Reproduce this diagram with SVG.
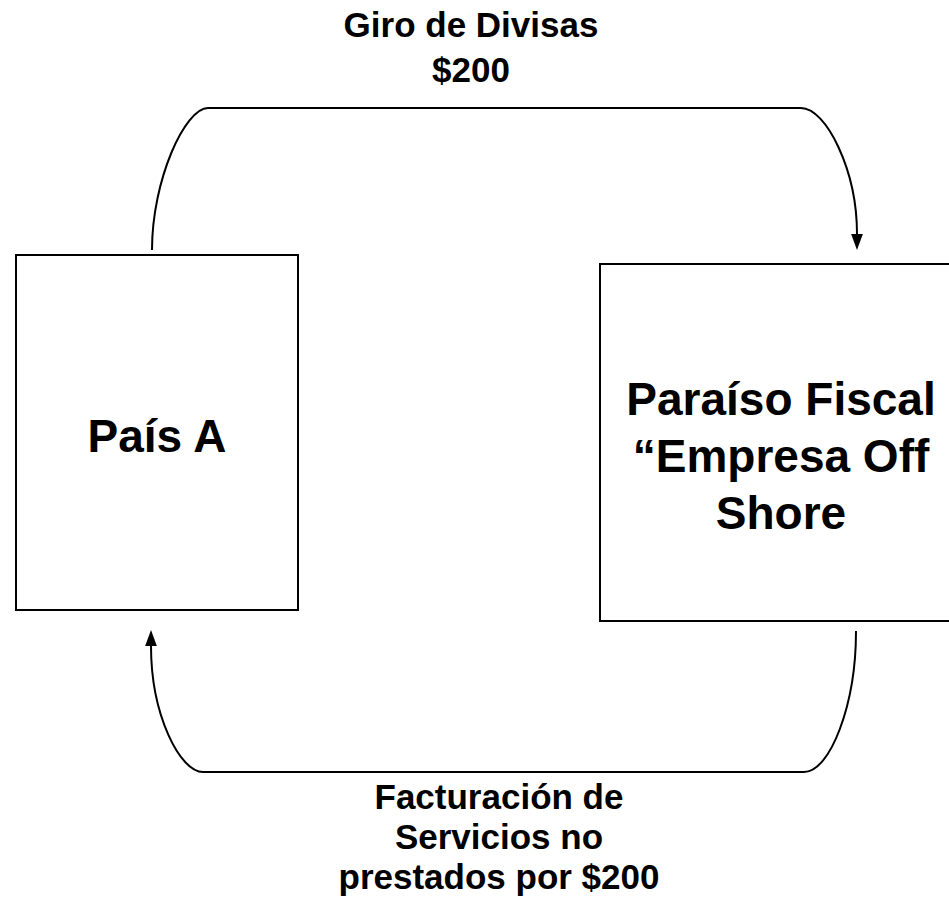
<svg xmlns="http://www.w3.org/2000/svg" width="949" height="904" viewBox="0 0 949 904">
  <style>
    .box { fill: #ffffff; stroke: #000000; stroke-width: 2; }
    .conn { fill: none; stroke: #000000; stroke-width: 2; }
    text { font-family: "Liberation Sans", Arial, sans-serif; font-weight: bold; fill: #000000; text-anchor: middle; }
    .lbl { font-size: 35px; }
    .big { font-size: 46px; }
  </style>
  <defs>
    <marker id="arrow" markerUnits="userSpaceOnUse" markerWidth="16" markerHeight="12" viewBox="0 0 15 11" refX="0" refY="5.5" orient="auto">
      <path d="M0,0 L15,5.5 L0,11 z" fill="#000000"/>
    </marker>
  </defs>
  <rect width="949" height="904" fill="#ffffff"/>

  <g id="connectors">
    <path class="conn" d="M152,250 C152,180 185,108 208,108 L801,108 C826,108 857,170 857,234" marker-end="url(#arrow)"/>
    <path class="conn" d="M856,631 C856,705 830,772 804,772 L203,772 C180,772 151,715 151,646" marker-end="url(#arrow)"/>
  </g>

  <g id="pais-a">
    <rect class="box" x="16" y="255" width="282" height="355"/>
    <text class="big" x="157" y="452">País A</text>
  </g>

  <g id="paraiso-fiscal">
    <rect class="box" x="600" y="264" width="360" height="357"/>
    <text class="big" x="781" y="415">Paraíso Fiscal</text>
    <text class="big" x="781" y="472">“Empresa Off</text>
    <text class="big" x="781" y="529">Shore</text>
  </g>

  <g id="label-giro">
    <text class="lbl" x="471" y="37">Giro de Divisas</text>
    <text class="lbl" x="471" y="82">$200</text>
  </g>

  <g id="label-facturacion">
    <text class="lbl" x="499" y="809">Facturación de</text>
    <text class="lbl" x="499" y="849">Servicios no</text>
    <text class="lbl" x="499" y="889">prestados por $200</text>
  </g>
</svg>
